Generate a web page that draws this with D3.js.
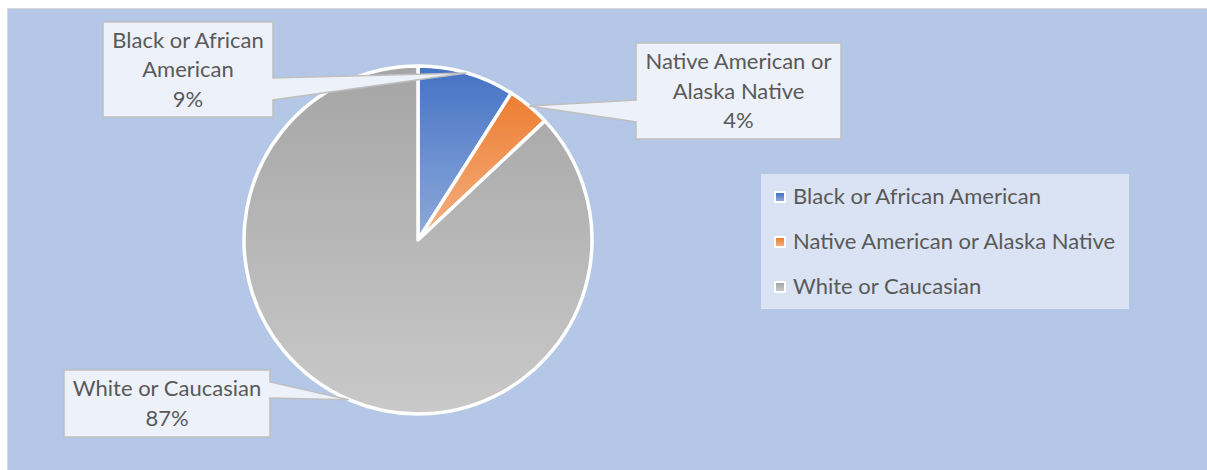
<!DOCTYPE html>
<html>
<head>
<meta charset="utf-8">
<script src="https://cdn.jsdelivr.net/npm/d3@7"></script>
<style>
  html, body { margin: 0; padding: 0; background: #ffffff; }
  svg { display: block; }
  text { font-family: Lato, "Open Sans", sans-serif; fill: #595959; }
</style>
</head>
<body>
<svg id="chart" width="1207" height="470"></svg>
<script>
// Racial composition (percent of total)
const categories = ["Black or African American", "Native American or Alaska Native", "White or Caucasian"];
const values = [9, 4, 87];
const labelLines = [["Black or African", "American"], ["Native American or", "Alaska Native"], ["White or Caucasian"]];
const colorsTop = ["#4472c4", "#ed7d31", "#a5a5a5"];
const colorsBottom = ["#8faadc", "#f4b183", "#c9c9c9"];

const W = 1207, H = 470;
const svg = d3.select("#chart");
const defs = svg.append("defs");

// chart area
svg.append("rect").attr("x", 7.5).attr("y", 8.5).attr("width", W).attr("height", H)
  .attr("fill", "#b4c7e7").attr("stroke", "#d9d9d9").attr("stroke-width", 1);

// vertical gradients per slice
categories.forEach((c, i) => {
  const g = defs.append("linearGradient").attr("id", "grad" + i)
    .attr("x1", 0).attr("y1", 0).attr("x2", 0).attr("y2", 1);
  g.append("stop").attr("offset", "0%").attr("stop-color", colorsTop[i]);
  g.append("stop").attr("offset", "100%").attr("stop-color", colorsBottom[i]);
});

const cx = 418, cy = 240, R = 174;
const pie = d3.pie().sort(null).value(d => d)(values);
const arc = d3.arc().innerRadius(0).outerRadius(R);
const g = svg.append("g").attr("transform", `translate(${cx},${cy})`);

g.selectAll("path.slice").data(pie).join("path")
  .attr("class", "slice")
  .attr("d", arc)
  .attr("fill", (d, i) => `url(#grad${i})`)
  .attr("stroke", "#ffffff").attr("stroke-width", 3.5).attr("stroke-linejoin", "round");

// callout data labels
const boxes = [
  { x: 103, y: 22, w: 170, h: 95, side: "right", p0: 78, p1: 100 },
  { x: 636, y: 43, w: 205, h: 96, side: "left", p0: 100, p1: 122 },
  { x: 64, y: 370, w: 206, h: 67, side: "right", p0: 382, p1: 398 }
];
const labelFont = 22, lineH = 29.5;

pie.forEach((d, i) => {
  const b = boxes[i];
  const mid = (d.startAngle + d.endAngle) / 2;
  const tx = cx + R * Math.sin(mid), ty = cy - R * Math.cos(mid);
  let pts;
  if (b.side === "right") {
    pts = [[b.x, b.y], [b.x + b.w, b.y], [b.x + b.w, b.p0], [tx, ty], [b.x + b.w, b.p1],
           [b.x + b.w, b.y + b.h], [b.x, b.y + b.h]];
  } else {
    pts = [[b.x, b.y], [b.x + b.w, b.y], [b.x + b.w, b.y + b.h], [b.x, b.y + b.h],
           [b.x, b.p1], [tx, ty], [b.x, b.p0]];
  }
  svg.append("path").attr("d", d3.line()(pts) + "Z")
    .attr("fill", "#edf1f9").attr("stroke", "#bfbfbf").attr("stroke-width", 1.5)
    .attr("stroke-linejoin", "miter");
  const lines = labelLines[i].concat([values[i] + "%"]);
  const n = lines.length;
  const midY = b.y + b.h / 2;
  const t = svg.append("text").attr("text-anchor", "middle")
    .attr("font-size", labelFont);
  lines.forEach((ln, k) => {
    t.append("tspan").attr("x", b.x + b.w / 2)
      .attr("y", midY + (k - (n - 1) / 2) * lineH + labelFont * 0.35)
      .text(ln);
  });
});

// legend
const lg = svg.append("g");
lg.append("rect").attr("x", 761).attr("y", 174).attr("width", 368).attr("height", 135)
  .attr("fill", "#dae3f3");
const legY = [197, 242, 287];
categories.forEach((c, i) => {
  lg.append("rect").attr("x", 774).attr("y", legY[i] - 6).attr("width", 12).attr("height", 12)
    .attr("fill", "#ffffff").attr("rx", 1.5);
  lg.append("rect").attr("x", 776).attr("y", legY[i] - 4).attr("width", 8).attr("height", 8)
    .attr("fill", `url(#grad${i})`);
  lg.append("text").attr("x", 793).attr("y", legY[i] + 7).attr("font-size", labelFont).text(c);
});
</script>
</body>
</html>
